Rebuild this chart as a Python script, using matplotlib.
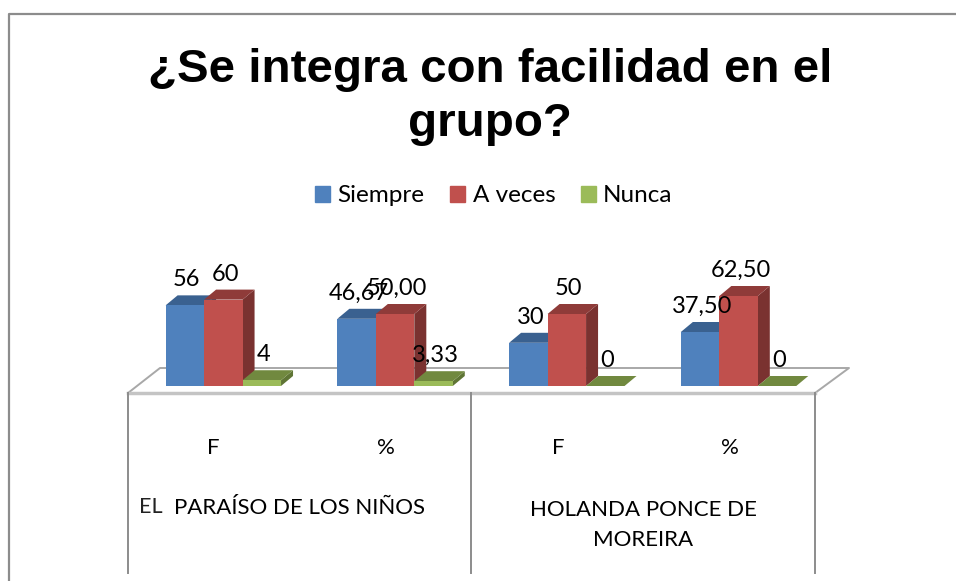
import numpy as np
import matplotlib
matplotlib.use('Agg')
import matplotlib.pyplot as plt
from matplotlib.patches import Polygon

categories = ['F', '%', 'F', '%']
schools = ['EL', 'PARAÍSO DE LOS NIÑOS', 'HOLANDA PONCE DE\nMOREIRA']
series_names = ['Siempre', 'A veces', 'Nunca']
siempre = [56, 46.67, 30, 37.5]
a_veces = [60, 50, 50, 62.5]
nunca = [4, 3.33, 0, 0]
labels_siempre = ['56', '46,67', '30', '37,50']
labels_a_veces = ['60', '50,00', '50', '62,50']
labels_nunca = ['4', '3,33', '0', '0']
colors = ['#4f81bd', '#c0504d', '#9bbb59']
dark = ['#3a6190', '#8f3b39', '#71893f']
side = ['#30507a', '#7a3230', '#5f7535']
W, H = 956, 581

plt.rcParams['font.family'] = ['Lato', 'DejaVu Sans']
fig = plt.figure(figsize=(W / 100, H / 100), dpi=100, facecolor='white')

# frame and table lines, in pixels
bg = fig.add_axes([0, 0, 1, 1])
bg.set_xlim(0, W)
bg.set_ylim(H, 0)
bg.axis('off')
grey = '#8c8c8c'
bg.plot([9, 9, W], [H, 14, 14], color=grey, lw=1.6)
bg.plot([128, 160, 849, 815], [393, 368, 368, 393], color='#a8a8a8', lw=1.4)
bg.plot([128, 815], [393, 393], color='#c4c4c4', lw=2.5)
for x in [128, 471, 815]:
    bg.plot([x, x], [393, 573], color=grey, lw=1.4)
for x, s in zip([213, 386, 558, 730], categories):
    bg.text(x, 448, s, ha='center', va='center', fontsize=16)
bg.text(151, 507, schools[0], ha='center', va='center', fontsize=15.5, color='#222222')
bg.text(300, 508, schools[1], ha='center', va='center', fontsize=16)
bg.text(643, 525, schools[2], ha='center', va='center', fontsize=16, linespacing=1.65)
bg.text(490, 97, '¿Se integra con facilidad en el\ngrupo?', ha='center', va='center',
        fontsize=34.2, fontweight='bold', family='Liberation Sans', linespacing=1.3)

# bars
ax = fig.add_axes([128 / W, (H - 386) / H, 687 / W, 144 / H])
ax.set_xlim(-0.5, 3.5)
ax.set_ylim(0, 100)
ax.axis('off')
ax.patch.set_alpha(0)
x = np.arange(len(categories))
width = 0.224
shift = 0.055
dx = 12 / 171.75
dy = 10 / 1.44
series = [siempre, a_veces, nunca]
texts = [labels_siempre, labels_a_veces, labels_nunca]
for j in range(3):
    for i in range(len(x)):
        v = series[j][i]
        x0 = x[i] + shift + (j - 1.5) * width
        x1 = x0 + width
        z = 2 + j
        ax.add_patch(Polygon([(x1, 0), (x1 + dx, dy), (x1 + dx, v + dy), (x1, v)], color=side[j], lw=0, clip_on=False, zorder=z))
        ax.add_patch(Polygon([(x0, v), (x0 + dx, v + dy), (x1 + dx, v + dy), (x1, v)], color=dark[j], lw=0, clip_on=False, zorder=z))
        ax.bar(x0, v, width, align='edge', color=colors[j], zorder=z + 0.5, clip_on=False)
for j in range(3):
    for i in range(len(x)):
        x0 = x[i] + shift + (j - 1.5) * width
        ax.annotate(texts[j][i], (x0 + width / 2, series[j][i]), xytext=(1.5, 18.3),
                    textcoords='offset points', ha='center', va='center', fontsize=17,
                    annotation_clip=False, zorder=10)

handles = [plt.Rectangle((0, 0), 1, 1, color=c) for c in colors]
fig.legend(handles, series_names, loc='center', bbox_to_anchor=(494 / W, 1 - 196 / H), ncols=3,
           frameon=False, fontsize=17.5, handlelength=0.62, handleheight=0.62,
           handletextpad=0.3, columnspacing=1.05)
fig.savefig('out.png', dpi=100)
